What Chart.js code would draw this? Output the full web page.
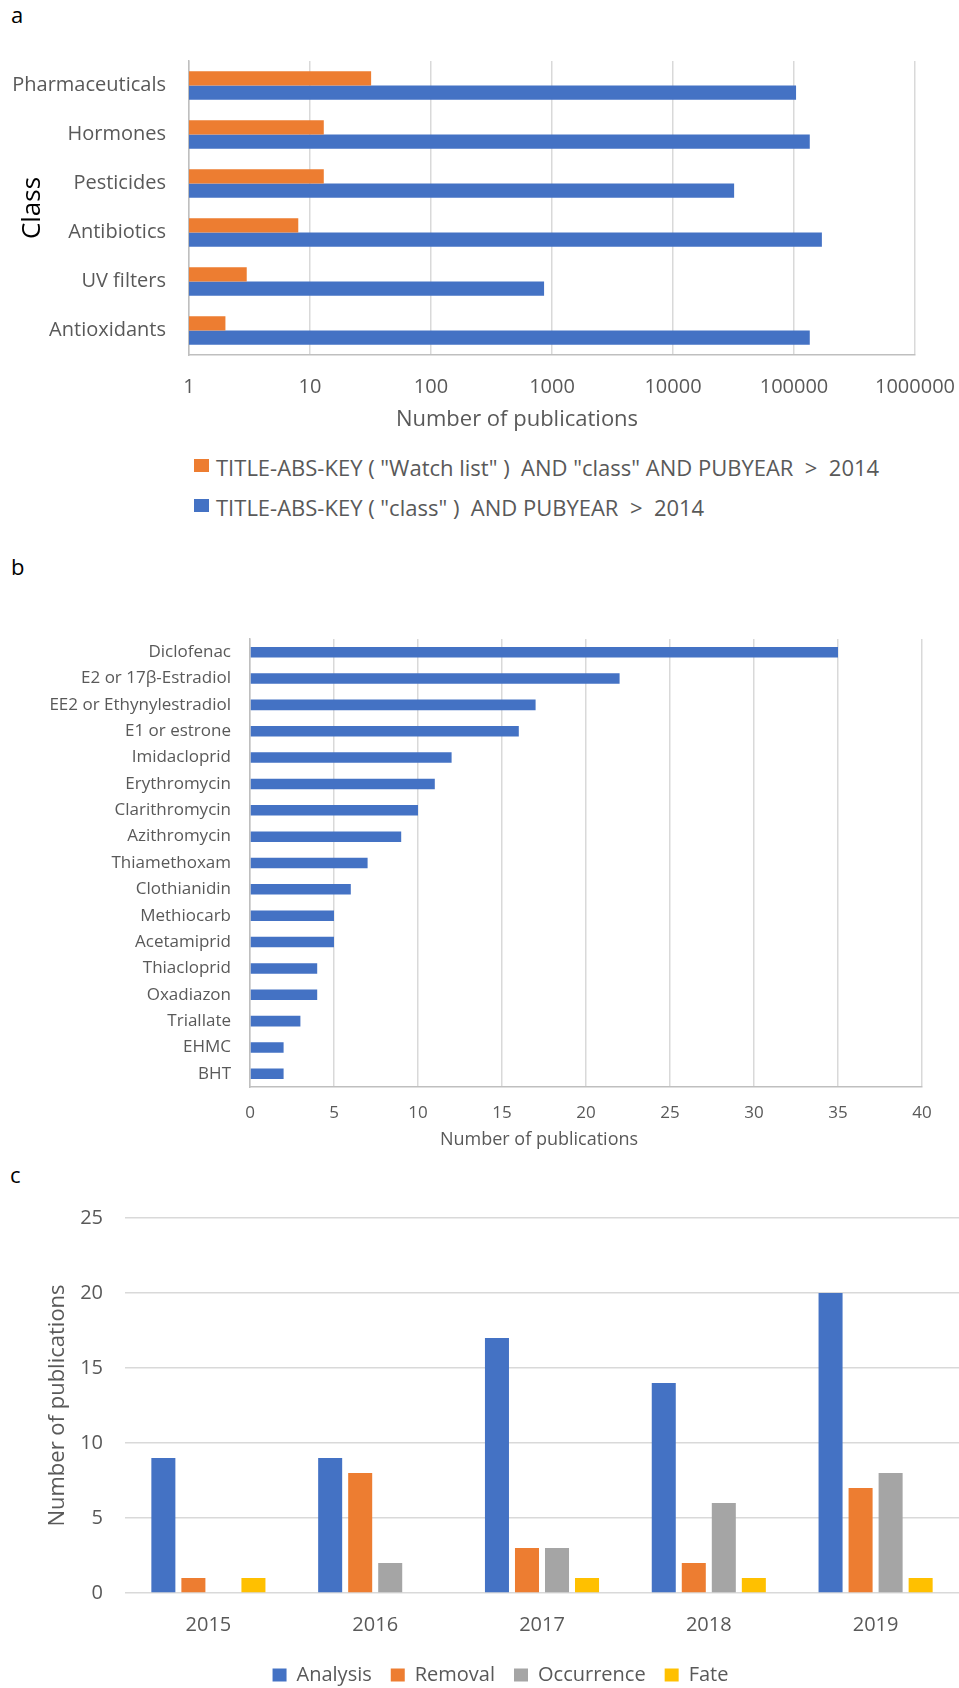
<!DOCTYPE html>
<html>
<head>
<meta charset="utf-8">
<title>Watch list publications</title>
<script src="https://cdn.jsdelivr.net/npm/chart.js@4.4.1/dist/chart.umd.min.js"></script>
<style>
  html, body { margin: 0; padding: 0; background: #fff; overflow: hidden; }
  #page { position: relative; width: 959px; height: 1688px; overflow: hidden; font-family: 'Open Sans', sans-serif; }
  canvas { position: absolute; left: 0; }
  .note { position: absolute; line-height: 1; white-space: pre; }
  .panel { color: #000; font-size: 22px; }
  .axis-title { color: #595959; text-align: center; width: 600px; }
  .key { position: absolute; left: 194px; height: 22px; }
  .key .swatch { position: absolute; left: 0; top: 2px; width: 15px; height: 13px; }
  .key .text { position: absolute; left: 22px; top: -1px; font-size: 22px; line-height: 1; color: #595959; white-space: pre; }
</style>
</head>
<body>
<div id="page">
  <div class="note panel" style="left:11px; top:3px;">a</div>
  <canvas id="class-chart" width="959" height="450" style="top:0px;"></canvas>
  <div class="note axis-title" style="left:217px; top:406px; font-size:22px;">Number of publications</div>
  <div id="class-legend"></div>

  <div class="note panel" style="left:11px; top:555px;">b</div>
  <canvas id="compound-chart" width="959" height="600" style="top:540px;"></canvas>
  <div class="note axis-title" style="left:239px; top:1129px; font-size:18px;">Number of publications</div>

  <div class="note panel" style="left:10px; top:1163px;">c</div>
  <canvas id="year-chart" width="959" height="545" style="top:1150px;"></canvas>
</div>

<script>
// panel a: publications per class, log scale
const classNames = ['Pharmaceuticals', 'Hormones', 'Pesticides', 'Antibiotics', 'UV filters', 'Antioxidants'];
const watchListHits = [32, 13, 13, 8, 3, 2];
const classHits = [104000, 135000, 32000, 170000, 860, 135000];
const decadeTicks = [1, 10, 100, 1000, 10000, 100000, 1000000];
const watchListLabel = 'TITLE-ABS-KEY ( "Watch list" )  AND "class" AND PUBYEAR  >  2014';
const classLabel = 'TITLE-ABS-KEY ( "class" )  AND PUBYEAR  >  2014';

// panel b: publications per compound
const compounds = ['Diclofenac', 'E2 or 17β-Estradiol', 'EE2 or Ethynylestradiol', 'E1 or estrone',
    'Imidacloprid', 'Erythromycin', 'Clarithromycin', 'Azithromycin', 'Thiamethoxam', 'Clothianidin',
    'Methiocarb', 'Acetamiprid', 'Thiacloprid', 'Oxadiazon', 'Triallate', 'EHMC', 'BHT'];
const compoundHits = [35, 22, 17, 16, 12, 11, 10, 9, 7, 6, 5, 5, 4, 4, 3, 2, 2];

// panel c: publications per year and topic
const years = ['2015', '2016', '2017', '2018', '2019'];
const analysisHits = [9, 9, 17, 14, 20];
const removalHits = [1, 8, 3, 2, 7];
const occurrenceHits = [0, 2, 3, 6, 8];
const fateHits = [1, 0, 1, 1, 1];

const blue = '#4472C4';
const orange = '#ED7D31';
const grey = '#A5A5A5';
const yellow = '#FFC000';
const gridColor = '#d9d9d9';
const axisColor = '#bfbfbf';

Chart.defaults.font.family = "'Open Sans', sans-serif";
Chart.defaults.color = '#595959';

// pin axis boxes so the plot areas line up
function fixWidth(px) {
    return scale => { scale.width = px; };
}
function fixHeight(px) {
    return scale => {
        scale.height = px;
        // long end labels must not shrink the plot
        scale.paddingLeft = 0;
        scale.paddingRight = 0;
    };
}

const classChart = new Chart(document.getElementById('class-chart'), {
    type: 'bar',
    data: {
        labels: classNames,
        datasets: [
            { label: watchListLabel, data: watchListHits, backgroundColor: orange },
            { label: classLabel, data: classHits, backgroundColor: blue }
        ]
    },
    options: {
        indexAxis: 'y',
        responsive: false,
        animation: false,
        datasets: { bar: { categoryPercentage: 0.585, barPercentage: 1 } },
        layout: { padding: { top: 61, right: 44, left: 0, bottom: 0 } },
        plugins: { legend: { display: false }, tooltip: { enabled: false } },
        scales: {
            x: {
                type: 'logarithmic',
                min: 1,
                max: 1000000,
                afterBuildTicks: scale => { scale.ticks = decadeTicks.map(v => ({ value: v })); },
                afterFit: fixHeight(95),
                grid: { color: gridColor, lineWidth: 1.5, drawTicks: false },
                border: { color: axisColor, width: 1.5 },
                ticks: { callback: v => String(v), padding: 20, autoSkip: false, maxRotation: 0, font: { size: 20 } }
            },
            y: {
                afterFit: fixWidth(189),
                grid: { display: false, drawTicks: false },
                border: { color: axisColor, width: 1.5 },
                ticks: { padding: 23, font: { size: 20 } },
                title: { display: true, text: 'Class', color: '#000', font: { size: 26 }, padding: { top: 17, bottom: 0 } }
            }
        }
    }
});

// legend for panel a, one entry per line
const classLegend = document.getElementById('class-legend');
classChart.data.datasets.forEach((ds, i) => {
    const row = document.createElement('div');
    row.className = 'key';
    row.style.top = (457 + i * 40) + 'px';
    row.innerHTML = `<span class="swatch" style="background:${ds.backgroundColor}"></span><span class="text"></span>`;
    row.querySelector('.text').textContent = ds.label;
    classLegend.appendChild(row);
});

new Chart(document.getElementById('compound-chart'), {
    type: 'bar',
    data: {
        labels: compounds,
        datasets: [{ label: 'Number of publications', data: compoundHits, backgroundColor: blue }]
    },
    options: {
        indexAxis: 'y',
        responsive: false,
        animation: false,
        datasets: { bar: { categoryPercentage: 0.4, barPercentage: 1 } },
        layout: { padding: { top: 99, right: 37, left: 0, bottom: 0 } },
        plugins: { legend: { display: false }, tooltip: { enabled: false } },
        scales: {
            x: {
                min: 0,
                max: 40,
                afterFit: fixHeight(53),
                grid: { color: gridColor, lineWidth: 1.5, drawTicks: false },
                border: { color: axisColor, width: 1.5 },
                ticks: { stepSize: 5, padding: 16, maxRotation: 0, font: { size: 17 } }
            },
            y: {
                afterFit: fixWidth(250),
                grid: { display: false, drawTicks: false },
                border: { color: axisColor, width: 1.5 },
                ticks: { padding: 19, autoSkip: false, font: { size: 17 } }
            }
        }
    }
});

new Chart(document.getElementById('year-chart'), {
    type: 'bar',
    data: {
        labels: years,
        datasets: [
            { label: 'Analysis', data: analysisHits, backgroundColor: blue },
            { label: 'Removal', data: removalHits, backgroundColor: orange },
            { label: 'Occurrence', data: occurrenceHits, backgroundColor: grey },
            { label: 'Fate', data: fateHits, backgroundColor: yellow }
        ]
    },
    options: {
        responsive: false,
        animation: false,
        datasets: { bar: { categoryPercentage: 0.72, barPercentage: 0.8 } },
        layout: { padding: { top: 68, right: 0, left: 42, bottom: 0 } },
        plugins: {
            tooltip: { enabled: false },
            legend: {
                position: 'bottom',
                labels: { boxWidth: 14, boxHeight: 13, padding: 19, color: '#595959', font: { size: 20 } }
            }
        },
        scales: {
            x: {
                afterFit: fixHeight(53),
                grid: { display: false, drawTicks: false },
                border: { display: false },
                ticks: { padding: 20, font: { size: 20 } }
            },
            y: {
                min: 0,
                max: 25,
                afterFit: fixWidth(83),
                grid: { color: gridColor, lineWidth: 1.5, drawTicks: false },
                border: { display: false },
                ticks: { stepSize: 5, padding: 22, font: { size: 20 } },
                title: { display: true, text: 'Number of publications', font: { size: 22 }, padding: { top: 3, bottom: 0 } }
            }
        }
    }
});
</script>
</body>
</html>
